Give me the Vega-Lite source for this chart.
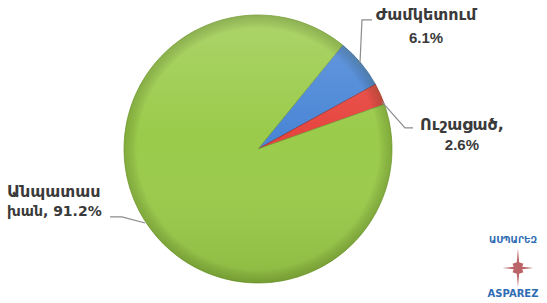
{
  "$schema": "https://vega.github.io/schema/vega-lite/v6.json",
  "width": 547,
  "height": 303,
  "autosize": {"type": "none"},
  "padding": 0,
  "background": "white",
  "config": {"view": {"stroke": null}},
  "data": {"values": [
    {"category": "Ժամկետում", "value": 6.1, "ord": 1, "line1": "Ժամկետում", "line2": "6.1%"},
    {"category": "Ուշացած", "value": 2.6, "ord": 2, "line1": "Ուշացած,", "line2": "2.6%"},
    {"category": "Անպատասխան", "value": 91.2, "ord": 3, "line1": "Անպատաս", "line2": "խան, 91.2%"}
  ]},
  "encoding": {
    "x": {"type": "quantitative", "scale": {"domain": [-1.9254, 2.1567], "nice": false, "zero": false}, "axis": null},
    "y": {"type": "quantitative", "scale": {"domain": [-1.1493, 1.1119], "nice": false, "zero": false}, "axis": null}
  },
  "layer": [
    {
      "mark": {"type": "arc", "radius": 134, "strokeWidth": 0.8},
      "encoding": {
        "x": {"datum": 0, "type": "quantitative"},
        "y": {"datum": 0, "type": "quantitative"},
        "theta": {"field": "value", "type": "quantitative", "stack": true, "scale": {"range": [0.684, 6.967]}},
        "order": {"field": "ord", "type": "quantitative"},
        "color": {"field": "category", "type": "nominal", "legend": null,
          "scale": {"domain": ["Ժամկետում", "Ուշացած", "Անպատասխան"], "range": ["#4a86d6", "#e6453e", "#9acb4a"]}},
        "stroke": {"field": "category", "type": "nominal", "legend": null,
          "scale": {"domain": ["Ժամկետում", "Ուշացած", "Անպատասխան"], "range": ["#2f64a8", "#a8302a", "#7aa33a"]}}
      }
    },
    {
      "data": {"values": [{"v": 1}]},
      "mark": {"type": "arc", "radius": 134,
        "fill": {"gradient": "linear", "x1": 0, "y1": 0, "x2": 0, "y2": 1,
          "stops": [{"offset": 0, "color": "rgba(255,255,255,0.18)"}, {"offset": 0.45, "color": "rgba(255,255,255,0)"}, {"offset": 1, "color": "rgba(40,60,0,0.12)"}]}},
      "encoding": {"x": {"datum": 0, "type": "quantitative"}, "y": {"datum": 0, "type": "quantitative"}}
    },
    {
      "data": {"values": [{"v": 1}]},
      "mark": {"type": "arc", "radius": 134,
        "fill": {"gradient": "radial", "x1": 0.5, "y1": 0.5, "r1": 0, "x2": 0.5, "y2": 0.5, "r2": 0.5,
          "stops": [{"offset": 0, "color": "rgba(0,0,0,0)"}, {"offset": 0.9, "color": "rgba(0,0,0,0)"}, {"offset": 1, "color": "rgba(40,60,0,0.22)"}]}},
      "encoding": {"x": {"datum": 0, "type": "quantitative"}, "y": {"datum": 0, "type": "quantitative"}}
    },
    {
      "data": {"values": [
        {"seg": "a", "p": 1, "x": 0.761, "y": 0.642},
        {"seg": "a", "p": 2, "x": 0.776, "y": 0.963},
        {"seg": "a", "p": 3, "x": 0.851, "y": 0.963},
        {"seg": "b", "p": 1, "x": 0.925, "y": 0.351},
        {"seg": "b", "p": 2, "x": 1.097, "y": 0.157},
        {"seg": "b", "p": 3, "x": 1.157, "y": 0.157},
        {"seg": "c", "p": 1, "x": -1.104, "y": -0.507},
        {"seg": "c", "p": 2, "x": -1.015, "y": -0.507},
        {"seg": "c", "p": 3, "x": -0.843, "y": -0.552}
      ]},
      "mark": {"type": "line", "color": "#8c8c8c", "strokeWidth": 1.2},
      "encoding": {
        "x": {"field": "x", "type": "quantitative"},
        "y": {"field": "y", "type": "quantitative"},
        "detail": {"field": "seg", "type": "nominal"},
        "order": {"field": "p", "type": "quantitative"}
      }
    },
    {
      "transform": [{"filter": "datum.ord == 1"}],
      "mark": {"type": "text", "font": "DejaVu Sans", "fontWeight": "bold", "fontSize": 16, "align": "center", "baseline": "middle", "color": "#3a3a3a"},
      "encoding": {"x": {"datum": 1.254, "type": "quantitative"}, "y": {"datum": 1.0, "type": "quantitative"}, "text": {"field": "line1"}}
    },
    {
      "transform": [{"filter": "datum.ord == 1"}],
      "mark": {"type": "text", "font": "Liberation Sans", "fontWeight": "bold", "fontSize": 15, "align": "center", "baseline": "middle", "color": "#3a3a3a"},
      "encoding": {"x": {"datum": 1.254, "type": "quantitative"}, "y": {"datum": 0.828, "type": "quantitative"}, "text": {"field": "line2"}}
    },
    {
      "transform": [{"filter": "datum.ord == 2"}],
      "mark": {"type": "text", "font": "DejaVu Sans", "fontWeight": "bold", "fontSize": 16, "align": "center", "baseline": "middle", "color": "#3a3a3a"},
      "encoding": {"x": {"datum": 1.522, "type": "quantitative"}, "y": {"datum": 0.179, "type": "quantitative"}, "text": {"field": "line1"}}
    },
    {
      "transform": [{"filter": "datum.ord == 2"}],
      "mark": {"type": "text", "font": "Liberation Sans", "fontWeight": "bold", "fontSize": 15, "align": "center", "baseline": "middle", "color": "#3a3a3a"},
      "encoding": {"x": {"datum": 1.522, "type": "quantitative"}, "y": {"datum": 0.030, "type": "quantitative"}, "text": {"field": "line2"}}
    },
    {
      "transform": [{"filter": "datum.ord == 3"}],
      "mark": {"type": "text", "font": "DejaVu Sans", "fontWeight": "bold", "fontSize": 16, "align": "left", "baseline": "middle", "color": "#3a3a3a"},
      "encoding": {"x": {"datum": -1.873, "type": "quantitative"}, "y": {"datum": -0.321, "type": "quantitative"}, "text": {"field": "line1"}}
    },
    {
      "transform": [{"filter": "datum.ord == 3"}],
      "mark": {"type": "text", "font": "DejaVu Sans", "fontWeight": "bold", "fontSize": 14, "align": "left", "baseline": "middle", "color": "#3a3a3a"},
      "encoding": {"x": {"datum": -1.873, "type": "quantitative"}, "y": {"datum": -0.470, "type": "quantitative"}, "text": {"field": "line2"}}
    },
    {
      "data": {"values": [{"t": "ԱՍՊԱՐԵԶ"}]},
      "mark": {"type": "text", "font": "DejaVu Sans", "fontWeight": "bold", "fontSize": 9, "align": "center", "baseline": "middle", "color": "#2f6cb3"},
      "encoding": {"x": {"datum": 1.903, "type": "quantitative"}, "y": {"datum": -0.679, "type": "quantitative"}, "text": {"field": "t"}}
    },
    {
      "data": {"values": [{"t": "ASPAREZ"}]},
      "mark": {"type": "text", "font": "DejaVu Sans", "fontWeight": "bold", "fontSize": 10, "align": "center", "baseline": "middle", "color": "#2f6cb3"},
      "encoding": {"x": {"datum": 1.903, "type": "quantitative"}, "y": {"datum": -1.082, "type": "quantitative"}, "text": {"field": "t"}}
    },
    {
      "data": {"values": [{"t": "star"}]},
      "mark": {"type": "point", "filled": true, "size": 1500, "color": "#b04a4e", "opacity": 0.85,
        "shape": "M0,-1 L0.06,-0.3 L0.28,-0.22 L0.22,-0.06 L0.8,0 L0.22,0.06 L0.28,0.22 L0.06,0.3 L0,1 L-0.06,0.3 L-0.28,0.22 L-0.22,0.06 L-0.8,0 L-0.22,-0.06 L-0.28,-0.22 L-0.06,-0.3 Z"},
      "encoding": {"x": {"datum": 1.94, "type": "quantitative"}, "y": {"datum": -0.888, "type": "quantitative"}}
    }
  ]
}
